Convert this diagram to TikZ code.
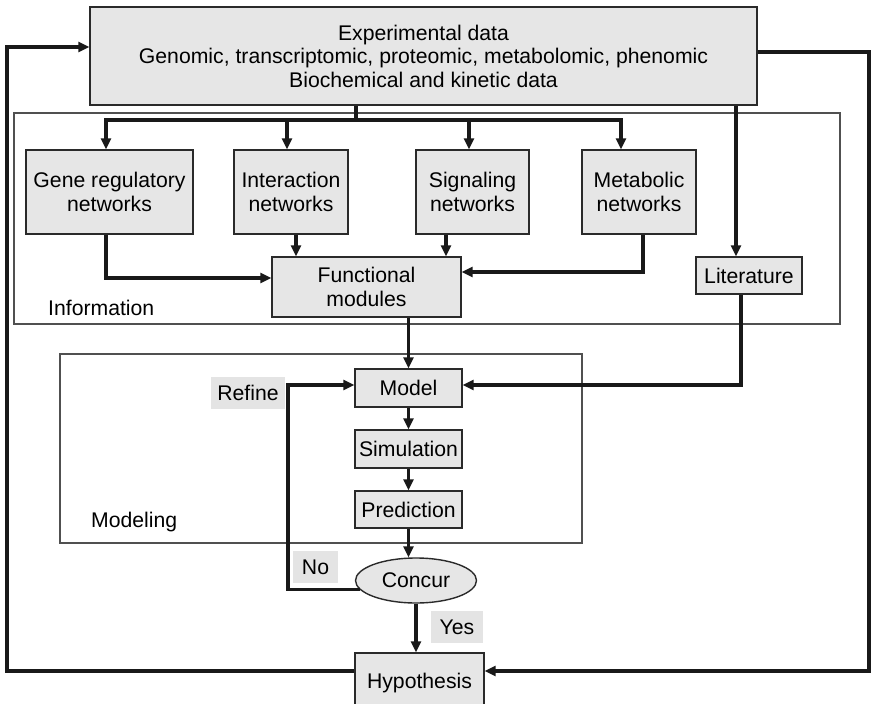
\documentclass[tikz,border=0pt]{standalone}
\usepackage{fontspec}
\setmainfont{Liberation Sans}
\usetikzlibrary{arrows.meta,shapes.geometric}
\definecolor{boxfill}{HTML}{E6E6E6}
\definecolor{lblfill}{HTML}{E4E4E4}
\definecolor{edge}{HTML}{2A2A2A}
\definecolor{frame}{HTML}{505050}
\tikzset{
  bx/.style={draw=edge,line width=1.4pt,fill=boxfill,inner sep=0pt,align=center,anchor=center},
  lbl/.style={fill=lblfill,inner sep=0pt,align=center,anchor=center},
  grp/.style={draw=frame,line width=1.1pt},
  conn/.style={draw=black!90,line width=3.4pt},
  arr/.style={conn,-{Triangle[length=11pt,width=10pt]}},
  txt/.style={inner sep=0pt,anchor=center}
}
\begin{document}
\begin{tikzpicture}[x=1pt,y=-1pt,font=\fontsize{21.2}{23.5}\selectfont]
\useasboundingbox (0,0) rectangle (871,704);
\fill[white] (0,0) rectangle (871,704);
% group frames
\draw[grp] (14,113) rectangle (840,324);
\draw[grp] (60,354) rectangle (582,543);
% nodes
\node[bx,minimum width=667pt,minimum height=98pt] (top) at (423.5,56) {Experimental data\\Genomic, transcriptomic, proteomic, metabolomic, phenomic\\Biochemical and kinetic data};
\node[bx,minimum width=167pt,minimum height=84pt] (gene) at (109.5,192) {Gene regulatory\\networks};
\node[bx,minimum width=114pt,minimum height=84pt] (inter) at (291,192) {Interaction\\networks};
\node[bx,minimum width=113pt,minimum height=84pt] (sig) at (472.5,192) {Signaling\\networks};
\node[bx,minimum width=114pt,minimum height=84pt] (met) at (639,192) {Metabolic\\networks};
\node[bx,minimum width=189pt,minimum height=60pt] (func) at (366.5,287) {Functional\\modules};
\node[bx,minimum width=106pt,minimum height=37pt] (lit) at (749,275.5) {Literature};
\node[txt,anchor=west] (info) at (48,308) {Information};
\node[bx,minimum width=107pt,minimum height=38pt] (model) at (408.5,388) {Model};
\node[bx,minimum width=107pt,minimum height=38pt] (sim) at (408.5,449) {Simulation};
\node[bx,minimum width=107pt,minimum height=37pt] (pred) at (408.5,509.5) {Prediction};
\node[txt,anchor=west] (modl) at (91,522) {Modeling};
\node[lbl,minimum width=74pt,minimum height=32pt] (refine) at (248,393) {Refine};
\node[draw=edge,line width=1.4pt,fill=boxfill,ellipse,inner sep=0pt,minimum width=121pt,minimum height=45pt] (conc) at (416,580.5) {Concur};
\node[lbl,minimum width=45pt,minimum height=32pt] (no) at (315.5,567) {No};
\node[lbl,minimum width=52pt,minimum height=32pt] (yes) at (457,627) {Yes};
\node[bx,minimum width=129pt,minimum height=56pt,text depth=0pt] (hyp) at (419.5,681) {Hypothesis};
% bus from experimental data
\coordinate (bs) at (356,120);
\coordinate (b1) at (106,120);
\coordinate (b2) at (287,120);
\coordinate (b3) at (469,120);
\coordinate (b4) at (621,120);
\draw[conn] (top.south -| bs) -- (bs);
\draw[conn] ([xshift=-1.7pt]b1) -- ([xshift=1.7pt]b4);
\draw[arr] (b1) -- (b1 |- gene.north);
\draw[arr] (b2) -- (b2 |- inter.north);
\draw[arr] (b3) -- (b3 |- sig.north);
\draw[arr] (b4) -- (b4 |- met.north);
% literature
\coordinate (lx) at (736,0);
\draw[arr] (top.south -| lx) -- (lx |- lit.north);
% networks to functional modules
\coordinate (gx) at (106,0);
\draw[arr] (gene.south -| gx) |- ([yshift=9pt]func.west);
\draw[arr] (inter.south -| 296,0) -- (func.north -| 296,0);
\draw[arr] (sig.south -| 446,0) -- (func.north -| 446,0);
\draw[arr] (met.south -| 643,0) |- ([yshift=15pt]func.east);
% to model
\draw[arr] (func.south -| model.north) -- (model.north);
\draw[arr] (lit.south -| 741,0) |- ([yshift=3pt]model.east);
\draw[arr] (model) -- (sim);
\draw[arr] (sim) -- (pred);
\draw[arr] (pred.south) -- (pred.south |- conc.north);
% no loop
\coordinate (nx) at (288,0);
\draw[arr] (conc.189) -- (conc.189 -| nx) |- ([yshift=3pt]model.west);
% yes
\draw[arr] (conc.south) -- (conc.south |- hyp.north);
% big loops
\coordinate (rx) at (869,0);
\coordinate (lx2) at (7,0);
\draw[arr] ([yshift=4pt]top.east) -| ([yshift=10pt]hyp.east -| rx) -- ([yshift=10pt]hyp.east);
\draw[arr] ([yshift=10pt]hyp.west) -| ([yshift=9pt]top.west -| lx2) -- ([yshift=9pt]top.west);
\end{tikzpicture}
\end{document}
